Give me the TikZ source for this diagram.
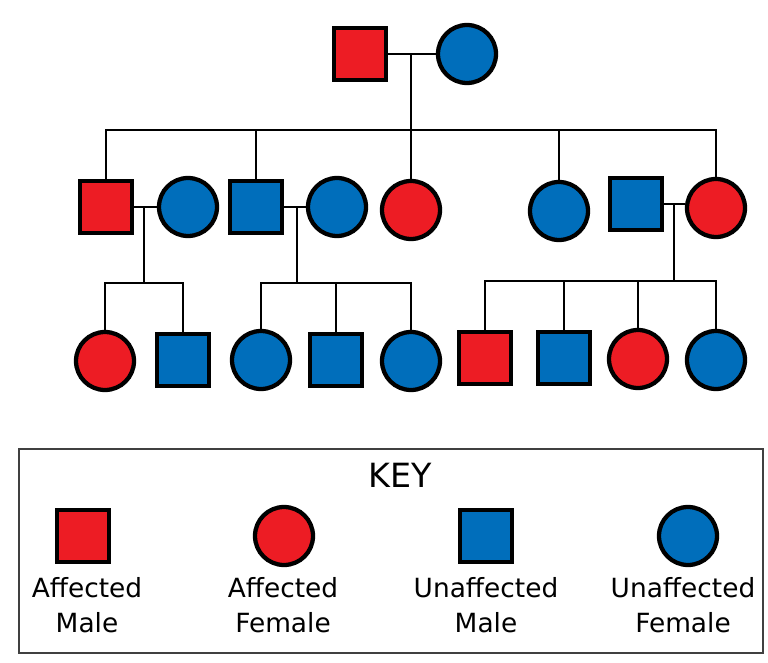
\documentclass[tikz,border=0pt]{standalone}
\usepackage{fontspec}
\setmainfont{DejaVu Sans}
\usepackage{tikz}
\definecolor{affred}{RGB}{237,28,36}
\definecolor{unblue}{RGB}{0,110,187}
\tikzset{
  person/.style={draw=black,line width=3.2pt,inner sep=0pt},
  male/.style={person,rectangle,minimum size=39.5pt},
  female/.style={person,circle,minimum size=43.5pt},
  affmale/.style={male,fill=affred},
  unmale/.style={male,fill=unblue},
  afffemale/.style={female,fill=affred},
  unfemale/.style={female,fill=unblue},
  kin/.style={draw=black,line width=2.2pt},
  keytext/.style={font=\fontsize{19.8}{26.25}\selectfont,align=center,anchor=north,inner sep=0pt}
}

\begin{document}
\begin{tikzpicture}[x=0.75pt,y=-0.75pt]
\useasboundingbox (0,0) rectangle (768,663);
\def\yI {54}    % y of generation I
\def\yII {207}  % y of generation II
\def\yIII {360} % y of generation III
% generation I:
 \node[affmale] (I1) at (360,\yI) {};
 \node[unfemale] (I2) at (467,\yI) {};
% generation II:
 \node[affmale] (II1) at (106,\yII) {};
 \node[unfemale] (II2) at (188,\yII) {};
 \node[unmale] (II3) at (256,\yII) {};
 \node[unfemale] (II4) at (337,\yII) {};
 \node[afffemale] (II5) at (411,210) {};
 \node[unfemale] (II6) at (559,211) {};
 \node[unmale] (II7) at (636,204) {};
 \node[afffemale] (II8) at (716,208) {};
% generation III:
 \node[afffemale] (III1) at (105,361) {};
 \node[unmale] (III2) at (183,\yIII) {};
 \node[unfemale] (III3) at (261,\yIII) {};
 \node[unmale] (III4) at (336,\yIII) {};
 \node[unfemale] (III5) at (411,361) {};
 \node[affmale] (III6) at (485,358) {};
 \node[unmale] (III7) at (564,358) {};
 \node[afffemale] (III8) at (638,359) {};
 \node[unfemale] (III9) at (716,360) {};
%% junctions:
 \coordinate (j1) at (411,\yI);
 \coordinate (s1) at (411,130);
 \coordinate (j2) at (144,\yII);
 \coordinate (s2) at (144,283);
 \coordinate (j3) at (297,\yII);
 \coordinate (s3) at (297,283);
 \coordinate (j4) at (674,204);
 \coordinate (s4) at (674,281);
%% lines:
 \draw[kin] (I1) -- (I2);
 \draw[kin] (j1) -- (s1);
 \draw[kin] (II1.north) |- (s1) -| (II8.north);
 \draw[kin] (II3.north) -- (II3.north |- s1);
 \draw[kin] (II5.north) -- (s1);
 \draw[kin] (II6.north) -- (II6.north |- s1);
 \draw[kin] (II1) -- (II2);
 \draw[kin] (j2) -- (s2);
 \draw[kin] (III1.north) |- (s2) -| (III2.north);
 \draw[kin] (II3) -- (II4);
 \draw[kin] (j3) -- (s3);
 \draw[kin] (III3.north) |- (s3) -| (III5.north);
 \draw[kin] (III4.north) -- (III4.north |- s3);
 \draw[kin] (II7.east) -- (II7.east -| II8.west);
 \draw[kin] (j4) -- (s4);
 \draw[kin] (III6.north) |- (s4) -| (III9.north);
 \draw[kin] (III7.north) -- (III7.north |- s4);
 \draw[kin] (III8.north) -- (III8.north |- s4);
%% key:
 \draw[draw=black!75,line width=1.1pt] (19,449) rectangle (763,653);
 \node[font=\fontsize{25}{30}\selectfont,anchor=base] (keytitle) at (400,487) {KEY};
 \node[affmale] (k1) at (83,536) {};
 \node[afffemale] (k2) at (284,536) {};
 \node[unmale] (k3) at (486,536) {};
 \node[unfemale] (k4) at (688,536) {};
 \node[keytext] (t1) at (87,577) {Affected\\Male};
 \node[keytext] (t2) at (283,577) {Affected\\Female};
 \node[keytext] (t3) at (486,577) {Unaffected\\Male};
 \node[keytext] (t4) at (683,577) {Unaffected\\Female};
\end{tikzpicture}
\end{document}
